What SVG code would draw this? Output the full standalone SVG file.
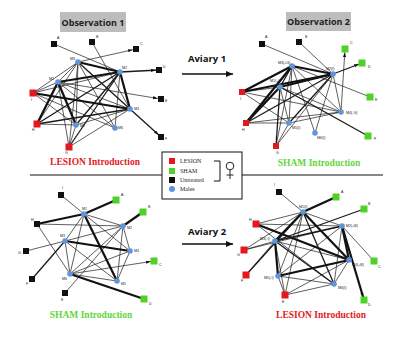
<svg xmlns="http://www.w3.org/2000/svg" width="400" height="345" viewBox="0 0 400 345">
<defs>
<style>
.t{stroke:#1a1a1a;stroke-width:0.7;fill:none}
.m{stroke:#1a1a1a;stroke-width:1.3;fill:none}
.k{stroke:#111;stroke-width:2.2;fill:none}
.a{marker-end:url(#ah)}
.red{fill:#e3191f}
.grn{fill:#4fd12a}
.blk{fill:#111}
.male{fill:#5f95dc}
.lb{font-family:"Liberation Sans",Arial,sans-serif;font-size:3.6px;fill:#222}
.ttl{font-family:"Open Sans","Liberation Sans",sans-serif;font-weight:bold;font-size:9px;fill:#222;text-anchor:middle}
.av{font-family:"Open Sans","Liberation Sans",sans-serif;font-weight:bold;font-size:9.5px;fill:#111;text-anchor:middle}
.intr{font-family:"Liberation Serif","Times New Roman",serif;font-weight:bold;font-size:9.5px;text-anchor:middle}
.lg{font-family:"Liberation Serif","Times New Roman",serif;font-size:6px;fill:#222}
</style>
<marker id="ah" markerUnits="userSpaceOnUse" markerWidth="9" markerHeight="4" refX="8" refY="1.6" orient="auto"><path d="M0,0 L4.5,1.6 L0,3.2 z" fill="#111"/></marker>
<marker id="big" markerUnits="userSpaceOnUse" markerWidth="8" markerHeight="6" refX="7" refY="3" orient="auto"><path d="M0,0 L7,3 L0,6 z" fill="#111"/></marker>
</defs>
<rect width="400" height="345" fill="#fff"/>

<!-- titles -->
<g id="title1"><rect x="60" y="12" width="66" height="20" fill="#bdbdbd"/><text class="ttl" x="93" y="25.5">Observation 1</text></g>
<g id="title2"><rect x="286" y="12" width="65" height="19" fill="#bdbdbd"/><text class="ttl" x="318.5" y="25">Observation 2</text></g>

<!-- aviary arrows and dividers -->
<g id="connectors-main">
<line x1="182" y1="74" x2="233" y2="74" stroke="#111" stroke-width="1.3" marker-end="url(#big)"/>
<line x1="182" y1="244" x2="233" y2="244" stroke="#111" stroke-width="1.3" marker-end="url(#big)"/>
<line x1="30" y1="175" x2="162" y2="175" stroke="#111" stroke-width="1.2"/>
<line x1="242" y1="175" x2="383" y2="175" stroke="#111" stroke-width="1.2"/>
</g>
<text class="av" x="207" y="62">Aviary 1</text>
<text class="av" x="207" y="235">Aviary 2</text>

<!-- legend -->
<g id="legend">
<rect x="162" y="152" width="80" height="47" fill="#fff" stroke="#111" stroke-width="1"/>
<rect class="red" x="169" y="158" width="6" height="6"/><text class="lg" x="180" y="163">LESION</text>
<rect class="grn" x="169" y="168" width="6" height="6"/><text class="lg" x="180" y="173">SHAM</text>
<rect class="blk" x="169" y="177" width="6" height="6"/><text class="lg" x="180" y="182">Untreated</text>
<circle class="male" cx="172" cy="189" r="3"/><text class="lg" x="180" y="191">Males</text>
<path d="M214,161 H220 V181 H214" fill="none" stroke="#111" stroke-width="1"/>
<circle cx="230" cy="166" r="3.8" fill="none" stroke="#222" stroke-width="1"/>
<path d="M230,170 V179 M226.5,175 H233.5" stroke="#222" stroke-width="1"/>
</g>

<!-- ============ Network 1 (top-left) ============ -->
<g id="edges-1">
<line class="t" x1="54" y1="44" x2="120" y2="72"/>
<line class="t" x1="92" y1="42" x2="130" y2="109"/>
<line class="t a" x1="78" y1="62" x2="136" y2="49"/>
<line class="m a" x1="120" y1="72" x2="159" y2="70"/>
<line class="t a" x1="58" y1="82" x2="161" y2="99"/>
<line class="m a" x1="130" y1="109" x2="161" y2="137"/>
<line class="k" x1="78" y1="62" x2="120" y2="72"/>
<line class="t" x1="78" y1="62" x2="58" y2="82"/>
<line class="m" x1="78" y1="62" x2="130" y2="109"/>
<line class="t" x1="78" y1="62" x2="76" y2="125"/>
<line class="t" x1="78" y1="62" x2="115" y2="128"/>
<line class="t" x1="78" y1="62" x2="33" y2="93"/>
<line class="t" x1="78" y1="62" x2="37" y2="124"/>
<line class="t" x1="78" y1="62" x2="69" y2="147"/>
<line class="k" x1="58" y1="82" x2="120" y2="72"/>
<line class="t" x1="58" y1="82" x2="130" y2="109"/>
<line class="k" x1="58" y1="82" x2="76" y2="125"/>
<line class="t" x1="58" y1="82" x2="115" y2="128"/>
<line class="t" x1="58" y1="82" x2="33" y2="93"/>
<line class="k" x1="58" y1="82" x2="37" y2="124"/>
<line class="t" x1="58" y1="82" x2="69" y2="147"/>
<line class="k" x1="120" y1="72" x2="130" y2="109"/>
<line class="m" x1="120" y1="72" x2="76" y2="125"/>
<line class="t" x1="120" y1="72" x2="115" y2="128"/>
<line class="t" x1="120" y1="72" x2="33" y2="93"/>
<line class="m" x1="120" y1="72" x2="37" y2="124"/>
<line class="m" x1="120" y1="72" x2="69" y2="147"/>
<line class="k" x1="130" y1="109" x2="33" y2="93"/>
<line class="m" x1="130" y1="109" x2="37" y2="124"/>
<line class="t" x1="130" y1="109" x2="69" y2="147"/>
<line class="t" x1="130" y1="109" x2="76" y2="125"/>
<line class="t" x1="76" y1="125" x2="37" y2="124"/>
<line class="t" x1="76" y1="125" x2="69" y2="147"/>
<line class="t" x1="33" y1="93" x2="76" y2="125"/>
<line class="t" x1="33" y1="93" x2="115" y2="128"/>
</g>
<g id="n1-A"><rect class="blk" x="51" y="41" width="6" height="6"/><text class="lb" x="57" y="39">A</text></g>
<g id="n1-B"><rect class="blk" x="89" y="39" width="6" height="6"/><text class="lb" x="96" y="38">B</text></g>
<g id="n1-C"><rect class="blk" x="133" y="46" width="6" height="6"/><text class="lb" x="140" y="45">C</text></g>
<g id="n1-D"><rect class="blk" x="156" y="67" width="6" height="6"/><text class="lb" x="163" y="68">D</text></g>
<g id="n1-E"><rect class="blk" x="158" y="96" width="6" height="6"/><text class="lb" x="165" y="102">E</text></g>
<g id="n1-F"><rect class="blk" x="158" y="134" width="6" height="6"/><text class="lb" x="165" y="140">F</text></g>
<g id="n1-I"><rect class="red" x="29.5" y="89.5" width="7" height="7"/><text class="lb" x="31" y="101">I</text></g>
<g id="n1-H"><rect class="red" x="33.5" y="120.5" width="7" height="7"/><text class="lb" x="32" y="131">H</text></g>
<g id="n1-G"><rect class="red" x="65.5" y="143.5" width="7" height="7"/><text class="lb" x="65" y="154">G</text></g>
<g id="n1-M3"><circle class="male" cx="78" cy="62" r="2.8"/><text class="lb" x="70" y="60">M3</text></g>
<g id="n1-M2"><circle class="male" cx="120" cy="72" r="2.8"/><text class="lb" x="122" y="69">M2</text></g>
<g id="n1-M1"><circle class="male" cx="58" cy="82" r="2.8"/><text class="lb" x="49" y="80">M1</text></g>
<g id="n1-M4"><circle class="male" cx="130" cy="109" r="2.8"/><text class="lb" x="134" y="110">M4</text></g>
<g id="n1-M5"><circle class="male" cx="76" cy="125" r="2.8"/><text class="lb" x="80" y="127">M5</text></g>
<g id="n1-M6"><circle class="male" cx="115" cy="128" r="2.8"/><text class="lb" x="118" y="129">M6</text></g>
<text class="intr" x="95" y="165" fill="#e3191f">LESION  Introduction</text>

<!-- ============ Network 2 (top-right) ============ -->
<g id="edges-2">
<line class="t" x1="262" y1="44" x2="333" y2="74"/>
<line class="t" x1="299" y1="42" x2="333" y2="74"/>
<line class="t a" x1="341" y1="112" x2="345" y2="49"/>
<line class="m a" x1="333" y1="74" x2="362" y2="63"/>
<line class="t" x1="292" y1="66" x2="370" y2="97"/>
<line class="m" x1="280" y1="87" x2="368" y2="136"/>
<line class="k" x1="292" y1="66" x2="333" y2="74"/>
<line class="m" x1="292" y1="66" x2="280" y2="87"/>
<line class="k" x1="292" y1="66" x2="242" y2="92"/>
<line class="k" x1="292" y1="66" x2="246" y2="123"/>
<line class="t" x1="292" y1="66" x2="276" y2="146"/>
<line class="t" x1="292" y1="66" x2="289" y2="123"/>
<line class="t" x1="292" y1="66" x2="341" y2="112"/>
<line class="t" x1="292" y1="66" x2="315" y2="133"/>
<line class="k" x1="280" y1="87" x2="333" y2="74"/>
<line class="t" x1="280" y1="87" x2="242" y2="92"/>
<line class="k" x1="280" y1="87" x2="246" y2="123"/>
<line class="m" x1="280" y1="87" x2="276" y2="146"/>
<line class="t" x1="280" y1="87" x2="289" y2="123"/>
<line class="t" x1="280" y1="87" x2="341" y2="112"/>
<line class="k" x1="333" y1="74" x2="242" y2="92"/>
<line class="m" x1="333" y1="74" x2="246" y2="123"/>
<line class="m" x1="333" y1="74" x2="289" y2="123"/>
<line class="t" x1="333" y1="74" x2="341" y2="112"/>
<line class="t" x1="333" y1="74" x2="315" y2="133"/>
<line class="t" x1="333" y1="74" x2="276" y2="146"/>
<line class="t" x1="341" y1="112" x2="242" y2="92"/>
<line class="t" x1="341" y1="112" x2="246" y2="123"/>
<line class="t" x1="341" y1="112" x2="289" y2="123"/>
<line class="t" x1="289" y1="123" x2="246" y2="123"/>
<line class="t" x1="289" y1="123" x2="276" y2="146"/>
<line class="t" x1="242" y1="92" x2="289" y2="123"/>
</g>
<g id="n2-A"><rect class="blk" x="259" y="41" width="6" height="6"/><text class="lb" x="265" y="38">A</text></g>
<g id="n2-B"><rect class="blk" x="296" y="39" width="6" height="6"/><text class="lb" x="305" y="38">B</text></g>
<g id="n2-C"><rect class="grn" x="341.5" y="45.5" width="7" height="7"/><text class="lb" x="350" y="44">C</text></g>
<g id="n2-D"><rect class="grn" x="358.5" y="59.5" width="7" height="7"/><text class="lb" x="368" y="68">D</text></g>
<g id="n2-E"><rect class="grn" x="366.5" y="93.5" width="7" height="7"/><text class="lb" x="375" y="101">E</text></g>
<g id="n2-F"><rect class="grn" x="364.5" y="132.5" width="7" height="7"/><text class="lb" x="374" y="140">F</text></g>
<g id="n2-I"><rect class="red" x="239" y="89" width="6" height="6"/><text class="lb" x="240" y="100">I</text></g>
<g id="n2-H"><rect class="red" x="243" y="120" width="6" height="6"/><text class="lb" x="242" y="131">H</text></g>
<g id="n2-G"><rect class="red" x="273" y="143" width="6" height="6"/><text class="lb" x="276" y="154">G</text></g>
<g id="n2-M3"><circle class="male" cx="292" cy="66" r="2.8"/><text class="lb" x="278" y="64">M3(+G)</text></g>
<g id="n2-M2"><circle class="male" cx="333" cy="74" r="2.8"/><text class="lb" x="326" y="70">M2(I)</text></g>
<g id="n2-M1"><circle class="male" cx="280" cy="87" r="2.8"/><text class="lb" x="270" y="82">M1(+I)</text></g>
<g id="n2-M4"><circle class="male" cx="341" cy="112" r="2.8"/><text class="lb" x="346" y="114">M4(-G)</text></g>
<g id="n2-M5"><circle class="male" cx="289" cy="123" r="2.8"/><text class="lb" x="292" y="129">M5(I)</text></g>
<g id="n2-M6"><circle class="male" cx="315" cy="133" r="2.8"/><text class="lb" x="317" y="139">M6(I)</text></g>
<text class="intr" x="319" y="166" fill="#5fd63a">SHAM  Introduction</text>

<!-- ============ Network 3 (bottom-left) ============ -->
<g id="edges-3">
<line class="t" x1="61" y1="195" x2="84" y2="214"/>
<line class="k" x1="116" y1="200" x2="84" y2="214"/>
<line class="k" x1="143" y1="212" x2="123" y2="226"/>
<line class="k" x1="37" y1="224" x2="84" y2="214"/>
<line class="t" x1="37" y1="224" x2="123" y2="226"/>
<line class="t" x1="37" y1="224" x2="70" y2="274"/>
<line class="t" x1="26" y1="251" x2="65" y2="241"/>
<line class="m" x1="32" y1="279" x2="65" y2="241"/>
<line class="t" x1="65" y1="293" x2="123" y2="226"/>
<line class="t a" x1="70" y1="274" x2="154" y2="261"/>
<line class="k" x1="70" y1="274" x2="144" y2="299"/>
<line class="t" x1="84" y1="214" x2="123" y2="226"/>
<line class="t" x1="84" y1="214" x2="65" y2="241"/>
<line class="t" x1="84" y1="214" x2="130" y2="251"/>
<line class="k" x1="84" y1="214" x2="117" y2="281"/>
<line class="t" x1="84" y1="214" x2="70" y2="274"/>
<line class="t" x1="123" y1="226" x2="65" y2="241"/>
<line class="t" x1="123" y1="226" x2="130" y2="251"/>
<line class="t" x1="123" y1="226" x2="117" y2="281"/>
<line class="t" x1="123" y1="226" x2="70" y2="274"/>
<line class="k" x1="65" y1="241" x2="130" y2="251"/>
<line class="t" x1="65" y1="241" x2="117" y2="281"/>
<line class="t" x1="65" y1="241" x2="70" y2="274"/>
<line class="t" x1="130" y1="251" x2="117" y2="281"/>
<line class="t" x1="130" y1="251" x2="70" y2="274"/>
<line class="t" x1="117" y1="281" x2="70" y2="274"/>
</g>
<g id="n3-I"><rect class="blk" x="58" y="192" width="6" height="6"/><text class="lb" x="62" y="189">I</text></g>
<g id="n3-H"><rect class="blk" x="34" y="221" width="6" height="6"/><text class="lb" x="31" y="221">H</text></g>
<g id="n3-G"><rect class="blk" x="23" y="248" width="6" height="6"/><text class="lb" x="18" y="254">G</text></g>
<g id="n3-F"><rect class="blk" x="29" y="276" width="6" height="6"/><text class="lb" x="26" y="285">F</text></g>
<g id="n3-E"><rect class="blk" x="62" y="290" width="6" height="6"/><text class="lb" x="61" y="301">E</text></g>
<g id="n3-A"><rect class="grn" x="112.5" y="196.5" width="7" height="7"/><text class="lb" x="121" y="196">A</text></g>
<g id="n3-B"><rect class="grn" x="139.5" y="208.5" width="7" height="7"/><text class="lb" x="148" y="208">B</text></g>
<g id="n3-C"><rect class="grn" x="150.5" y="257.5" width="7" height="7"/><text class="lb" x="159" y="266">C</text></g>
<g id="n3-D"><rect class="grn" x="140.5" y="295.5" width="7" height="7"/><text class="lb" x="149" y="305">D</text></g>
<g id="n3-M1"><circle class="male" cx="84" cy="214" r="2.8"/><text class="lb" x="82" y="210">M1</text></g>
<g id="n3-M2"><circle class="male" cx="123" cy="226" r="2.8"/><text class="lb" x="127" y="229">M2</text></g>
<g id="n3-M3"><circle class="male" cx="65" cy="241" r="2.8"/><text class="lb" x="60" y="237">M3</text></g>
<g id="n3-M4"><circle class="male" cx="130" cy="251" r="2.8"/><text class="lb" x="134" y="252">M4</text></g>
<g id="n3-M5"><circle class="male" cx="117" cy="281" r="2.8"/><text class="lb" x="121" y="285">M5</text></g>
<g id="n3-M6"><circle class="male" cx="70" cy="274" r="2.8"/><text class="lb" x="62" y="280">M6</text></g>
<text class="intr" x="91" y="318" fill="#5fd63a">SHAM  Introduction</text>

<!-- ============ Network 4 (bottom-right) ============ -->
<g id="edges-4">
<line class="t" x1="279" y1="192" x2="303" y2="212"/>
<line class="k" x1="336" y1="197" x2="303" y2="212"/>
<line class="m" x1="364" y1="209" x2="275" y2="241"/>
<line class="t" x1="374" y1="261" x2="342" y2="226"/>
<line class="k a" x1="342" y1="226" x2="364" y2="300"/>
<line class="t" x1="256" y1="224" x2="303" y2="212"/>
<line class="k" x1="256" y1="224" x2="349" y2="260"/>
<line class="t" x1="256" y1="224" x2="334" y2="284"/>
<line class="t" x1="256" y1="224" x2="342" y2="226"/>
<line class="t" x1="244" y1="250" x2="275" y2="241"/>
<line class="t" x1="244" y1="250" x2="303" y2="212"/>
<line class="t" x1="244" y1="250" x2="342" y2="226"/>
<line class="m" x1="246" y1="275" x2="303" y2="212"/>
<line class="t" x1="246" y1="275" x2="275" y2="241"/>
<line class="t" x1="285" y1="295" x2="278" y2="276"/>
<line class="t" x1="285" y1="295" x2="303" y2="212"/>
<line class="t" x1="285" y1="295" x2="334" y2="284"/>
<line class="t" x1="285" y1="295" x2="349" y2="260"/>
<line class="t" x1="285" y1="295" x2="275" y2="241"/>
<line class="t" x1="303" y1="212" x2="342" y2="226"/>
<line class="k" x1="303" y1="212" x2="275" y2="241"/>
<line class="k" x1="303" y1="212" x2="349" y2="260"/>
<line class="t" x1="303" y1="212" x2="278" y2="276"/>
<line class="m" x1="303" y1="212" x2="334" y2="284"/>
<line class="m" x1="342" y1="226" x2="275" y2="241"/>
<line class="k" x1="342" y1="226" x2="349" y2="260"/>
<line class="t" x1="342" y1="226" x2="278" y2="276"/>
<line class="t" x1="342" y1="226" x2="334" y2="284"/>
<line class="t" x1="275" y1="241" x2="349" y2="260"/>
<line class="k" x1="275" y1="241" x2="278" y2="276"/>
<line class="m" x1="275" y1="241" x2="334" y2="284"/>
<line class="k" x1="349" y1="260" x2="278" y2="276"/>
<line class="t" x1="349" y1="260" x2="334" y2="284"/>
<line class="t" x1="278" y1="276" x2="334" y2="284"/>
</g>
<g id="n4-I"><rect class="blk" x="276" y="189" width="6" height="6"/><text class="lb" x="274" y="186">I</text></g>
<g id="n4-A"><rect class="grn" x="332.5" y="193.5" width="7" height="7"/><text class="lb" x="341" y="193">A</text></g>
<g id="n4-B"><rect class="grn" x="360.5" y="205.5" width="7" height="7"/><text class="lb" x="368" y="205">B</text></g>
<g id="n4-C"><rect class="grn" x="370.5" y="257.5" width="7" height="7"/><text class="lb" x="378" y="268">C</text></g>
<g id="n4-D"><rect class="grn" x="360.5" y="296.5" width="7" height="7"/><text class="lb" x="368" y="306">D</text></g>
<g id="n4-H"><rect class="red" x="252.5" y="220.5" width="7" height="7"/><text class="lb" x="249" y="221">H</text></g>
<g id="n4-G"><rect class="red" x="240.5" y="246.5" width="7" height="7"/><text class="lb" x="237" y="256">G</text></g>
<g id="n4-F"><rect class="red" x="242.5" y="271.5" width="7" height="7"/><text class="lb" x="241" y="282">F</text></g>
<g id="n4-E"><rect class="red" x="281.5" y="291.5" width="7" height="7"/><text class="lb" x="282" y="303">E</text></g>
<g id="n4-M1"><circle class="male" cx="303" cy="212" r="2.8"/><text class="lb" x="299" y="208">M1(I)</text></g>
<g id="n4-M2"><circle class="male" cx="342" cy="226" r="2.8"/><text class="lb" x="346" y="227">M2(+B)</text></g>
<g id="n4-M3"><circle class="male" cx="275" cy="241" r="2.8"/><text class="lb" x="260" y="240">M3(-I)</text></g>
<g id="n4-M4"><circle class="male" cx="349" cy="260" r="2.8"/><text class="lb" x="352" y="266">M4(+B)</text></g>
<g id="n4-M5"><circle class="male" cx="278" cy="276" r="2.8"/><text class="lb" x="264" y="279">M5(-I)</text></g>
<g id="n4-M6"><circle class="male" cx="334" cy="284" r="2.8"/><text class="lb" x="338" y="289">M6(I)</text></g>
<text class="intr" x="321" y="318" fill="#e3191f">LESION  Introduction</text>
</svg>
